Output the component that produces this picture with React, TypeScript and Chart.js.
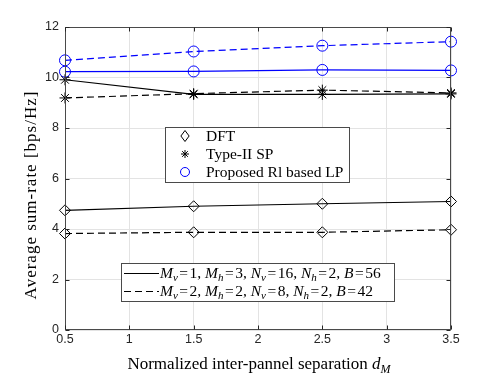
import React, { useEffect, useRef } from 'react';
import { Chart, registerables } from 'chart.js';

Chart.register(...registerables);

// ---------- data ----------
const xValues = [0.5, 1.5, 2.5, 3.5];
const dftCfg1 = [4.74, 4.9, 5.0, 5.09];
const dftCfg2 = [3.82, 3.87, 3.87, 3.97];
const spCfg1 = [9.91, 9.33, 9.33, 9.35];
const spCfg2 = [9.19, 9.36, 9.5, 9.39];
const rlCfg1 = [10.23, 10.24, 10.3, 10.28];
const rlCfg2 = [10.68, 11.03, 11.26, 11.42];

const xTickValues = [0.5, 1, 1.5, 2, 2.5, 3, 3.5];
const yTickValues = [0, 2, 4, 6, 8, 10, 12];

const methodLabels = ['DFT', 'Type-II SP', 'Proposed Rl based LP'];
const configLabels = ['M_v=1, M_h=3, N_v=16, N_h=2, B=56', 'M_v=2, M_h=2, N_v=8, N_h=2, B=42'];
const xTitle = 'Normalized inter-pannel separation ';
const xTitleVar = 'd_M';
const yTitle = 'Average sum-rate [bps/Hz]';

const BLACK = '#000000';
const BLUE = '#0000ff';
const DASH = [7, 4];
const SERIF = '"Liberation Serif", "Times New Roman", serif';
const SANS = '"Liberation Sans", Helvetica, Arial, sans-serif';

type Seg = { t: string; italic: boolean; sub: boolean; gap?: number };

function parseMath(s: string, eqGap = 0): Seg[] {
  const segs: Seg[] = [];
  const re = /([A-Za-z])(?:_([A-Za-z]))?|(=)|([^A-Za-z=]+)/g;
  let m: RegExpExecArray | null;
  while ((m = re.exec(s))) {
    if (m[4]) segs.push({ t: m[4], italic: false, sub: false });
    else if (m[3]) segs.push({ t: '=', italic: false, sub: false, gap: eqGap });
    else {
      segs.push({ t: m[1], italic: true, sub: false });
      if (m[2]) segs.push({ t: m[2], italic: true, sub: true });
    }
  }
  return segs;
}

function segFont(seg: Seg, size: number) {
  const sz = seg.sub ? Math.round(size * 0.7) : size;
  return `${seg.italic ? 'italic ' : ''}${sz}px ${SERIF}`;
}

function measureSegs(ctx: CanvasRenderingContext2D, segs: Seg[], size: number) {
  let w = 0;
  for (const s of segs) {
    ctx.font = segFont(s, size);
    w += ctx.measureText(s.t).width + 2 * (s.gap || 0);
  }
  return w;
}

function drawSegs(ctx: CanvasRenderingContext2D, segs: Seg[], x: number, y: number, size: number) {
  let cx = x;
  ctx.textAlign = 'left';
  ctx.textBaseline = 'alphabetic';
  for (const s of segs) {
    ctx.font = segFont(s, size);
    cx += s.gap || 0;
    ctx.fillText(s.t, cx, s.sub ? y + size * 0.22 : y);
    cx += ctx.measureText(s.t).width + (s.gap || 0);
  }
}

function drawMarker(ctx: CanvasRenderingContext2D, kind: string, x: number, y: number, r: number, color: string) {
  ctx.save();
  ctx.strokeStyle = color;
  ctx.lineWidth = 1;
  ctx.setLineDash([]);
  ctx.beginPath();
  if (kind === 'diamond') {
    ctx.moveTo(x, y - r);
    ctx.lineTo(x + r * 0.75, y);
    ctx.lineTo(x, y + r);
    ctx.lineTo(x - r * 0.75, y);
    ctx.closePath();
  } else if (kind === 'star') {
    for (let i = 0; i < 4; i++) {
      const a = (i * Math.PI) / 4;
      ctx.moveTo(x - Math.cos(a) * r, y - Math.sin(a) * r);
      ctx.lineTo(x + Math.cos(a) * r, y + Math.sin(a) * r);
    }
  } else {
    ctx.arc(x, y, r, 0, Math.PI * 2);
  }
  ctx.stroke();
  ctx.restore();
}

const decorPlugin = {
  id: 'decor',
  afterDatasetsDraw(chart: any) {
    const { ctx, chartArea: a, scales } = chart;
    ctx.save();
    // frame
    ctx.strokeStyle = '#4a4a4a';
    ctx.lineWidth = 1;
    ctx.setLineDash([]);
    const L = Math.round(a.left) + 0.5;
    const R = Math.round(a.right) - 0.5;
    const T = Math.round(a.top) + 0.5;
    const B = Math.round(a.bottom) - 0.5;
    ctx.strokeRect(L, T, R - L, B - T);
    // inward ticks
    ctx.strokeStyle = '#262626';
    ctx.beginPath();
    for (const v of xTickValues) {
      const px = Math.round(scales.x.getPixelForValue(v)) + 0.5;
      ctx.moveTo(px, B);
      ctx.lineTo(px, B - 4);
      ctx.moveTo(px, T);
      ctx.lineTo(px, T + 4);
    }
    for (const v of yTickValues) {
      const py = Math.round(scales.y.getPixelForValue(v)) + 0.5;
      ctx.moveTo(L, py);
      ctx.lineTo(L + 4, py);
      ctx.moveTo(R, py);
      ctx.lineTo(R - 4, py);
    }
    ctx.stroke();

    // legend 1 (methods)
    ctx.fillStyle = '#ffffff';
    ctx.fillRect(165, 127, 184, 55);
    ctx.strokeStyle = '#4a4a4a';
    ctx.strokeRect(165.5, 127.5, 184, 55);
    const kinds = ['diamond', 'star', 'circle'];
    const kcol = [BLACK, BLACK, BLUE];
    const ksz = [5.5, 4, 4.5];
    const rows1 = [136, 154, 172];
    methodLabels.forEach((lab, i) => {
      drawMarker(ctx, kinds[i], 185, rows1[i], ksz[i], kcol[i]);
      ctx.fillStyle = '#000';
      ctx.font = `15.5px ${SERIF}`;
      ctx.textAlign = 'left';
      ctx.textBaseline = 'middle';
      ctx.fillText(lab, 206, rows1[i] + 1);
    });

    // legend 2 (configurations)
    ctx.fillStyle = '#ffffff';
    ctx.fillRect(121, 263, 273, 38);
    ctx.strokeStyle = '#4a4a4a';
    ctx.strokeRect(121.5, 263.5, 273, 38);
    const rows2 = [273, 291];
    configLabels.forEach((lab, i) => {
      ctx.strokeStyle = '#000';
      ctx.lineWidth = 1.2;
      ctx.setLineDash(i === 0 ? [] : DASH);
      ctx.beginPath();
      ctx.moveTo(124, rows2[i] + 0.5);
      ctx.lineTo(159, rows2[i] + 0.5);
      ctx.stroke();
      ctx.setLineDash([]);
      ctx.fillStyle = '#000';
      drawSegs(ctx, parseMath(lab, 1.5), 160, rows2[i] + 5, 15.5);
    });

    // x title
    ctx.fillStyle = '#000';
    const xs: Seg[] = [{ t: xTitle, italic: false, sub: false }, ...parseMath(xTitleVar)];
    const w = measureSegs(ctx, xs, 17);
    drawSegs(ctx, xs, 259 - w / 2, 369, 17);

    // y title
    ctx.save();
    ctx.translate(36, 195);
    ctx.rotate(-Math.PI / 2);
    ctx.font = `17px ${SERIF}`;
    (ctx as any).letterSpacing = '1px';
    ctx.textAlign = 'center';
    ctx.textBaseline = 'alphabetic';
    ctx.fillText(yTitle, 0, 0);
    (ctx as any).letterSpacing = '0px';
    ctx.restore();

    ctx.restore();
  },
};

function mk(label: string, data: number[], color: string, dashed: boolean, style: any, r: number) {
  return {
    label,
    data: xValues.map((x, i) => ({ x, y: data[i] })),
    borderColor: color,
    backgroundColor: 'rgba(0,0,0,0)',
    borderWidth: 1.2,
    borderDash: dashed ? DASH : [],
    pointStyle: style,
    pointRadius: r,
    pointBorderColor: color,
    pointBackgroundColor: 'rgba(0,0,0,0)',
    pointBorderWidth: 1,
    tension: 0,
    clip: false as any,
  };
}

export default function App() {
  const ref = useRef<HTMLCanvasElement>(null);
  useEffect(() => {
    if (!ref.current) return;
    const chart = new Chart(ref.current, {
      type: 'line',
      data: {
        datasets: [
          mk('DFT 1', dftCfg1, BLACK, false, 'rectRot', 5.5),
          mk('DFT 2', dftCfg2, BLACK, true, 'rectRot', 5.5),
          mk('SP 1', spCfg1, BLACK, false, 'star', 5.5),
          mk('SP 2', spCfg2, BLACK, true, 'star', 5.5),
          mk('RL 1', rlCfg1, BLUE, false, 'circle', 5.5),
          mk('RL 2', rlCfg2, BLUE, true, 'circle', 5.5),
        ] as any,
      },
      options: {
        animation: false,
        responsive: false,
        devicePixelRatio: 1,
        layout: { padding: { left: 0, top: 27, right: 47, bottom: 0 } },
        plugins: { legend: { display: false }, tooltip: { enabled: false } },
        scales: {
          x: {
            type: 'linear',
            min: 0.5,
            max: 3.5,
            afterBuildTicks: (s: any) => {
              s.ticks = xTickValues.map((v) => ({ value: v }));
            },
            afterFit: (s: any) => {
              s.height = 44;
            },
            ticks: {
              color: '#262626',
              font: { family: SANS, size: 12.5 },
              padding: 2,
              maxRotation: 0,
              autoSkip: false,
              callback: (v: any) => String(Number(v)),
            },
            grid: { color: '#e3e3e3', drawTicks: false, lineWidth: 1 },
            border: { display: false },
          },
          y: {
            type: 'linear',
            min: 0,
            max: 12,
            afterBuildTicks: (s: any) => {
              s.ticks = yTickValues.map((v) => ({ value: v }));
            },
            afterFit: (s: any) => {
              s.width = 65;
            },
            ticks: {
              color: '#262626',
              font: { family: SANS, size: 12.5 },
              padding: 6,
              autoSkip: false,
              callback: (v: any) => String(Number(v)),
            },
            grid: { color: '#e3e3e3', drawTicks: false, lineWidth: 1 },
            border: { display: false },
          },
        },
      } as any,
      plugins: [decorPlugin],
    });
    return () => chart.destroy();
  }, []);
  return (
    <div style={{ position: 'fixed', left: 0, top: 0, width: 498, height: 374, background: '#fff' }}>
      <canvas ref={ref} width={498} height={374} style={{ width: 498, height: 374 }} />
    </div>
  );
}
